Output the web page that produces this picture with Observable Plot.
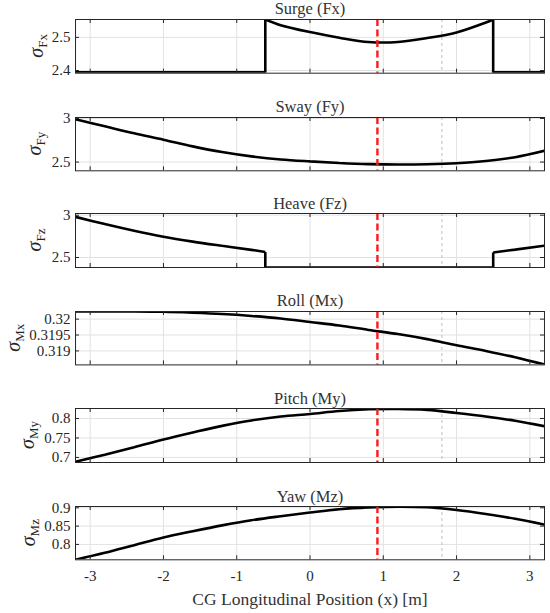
<!DOCTYPE html>
<html>
<head>
<meta charset="utf-8">
<script src="https://cdn.jsdelivr.net/npm/d3@7"></script>
<script src="https://cdn.jsdelivr.net/npm/@observablehq/plot@0.6"></script>
<style>
  html, body { margin: 0; padding: 0; background: white; }
  #chart { position: relative; width: 550px; height: 613px; background: white; overflow: hidden; }
  #chart svg { position: absolute; left: 0; font-family: "Liberation Serif", "DejaVu Serif", "Times New Roman", serif; }
  #chart svg text { font-family: "Liberation Serif", "DejaVu Serif", "Times New Roman", serif; }
</style>
</head>
<body>
<div id="chart"></div>
<script>
// ---- data ----
const xTicks = [-3, -2, -1, 0, 1, 2, 3];
const xDomain = [-3.2, 3.2];
const cgLine = 0.92;      // red dashed marker
const refLine = 1.8;      // gray dashed marker

const titles = ["Surge (Fx)", "Sway (Fy)", "Heave (Fz)", "Roll (Mx)", "Pitch (My)", "Yaw (Mz)"];
const subscripts = ["Fx", "Fy", "Fz", "Mx", "My", "Mz"];

const xs = [-3.2, -2.8, -2.4, -2.0, -1.6, -1.2, -0.8, -0.4, 0, 0.4, 0.8, 1.2, 1.6, 2.0, 2.4, 2.8, 3.2];

// Surge: flat level outside [-0.61, 2.5], curved inside
const surgeLevel = 2.395;
const surgeCurveX = [-0.61, -0.4, 0, 0.4, 0.8, 1.2, 1.6, 2.0, 2.4, 2.5];
const surgeCurveY = [2.554, 2.537, 2.516, 2.499, 2.486, 2.486, 2.498, 2.515, 2.545, 2.554];

const swayY = [2.99, 2.91, 2.83, 2.757, 2.68, 2.615, 2.565, 2.53, 2.508, 2.49, 2.477, 2.472, 2.475, 2.487, 2.513, 2.556, 2.63];

// Heave: curve on the left, floor in the middle, rise on the right
const heaveLeftX = [-3.2, -2.8, -2.4, -2.0, -1.6, -1.2, -0.8, -0.61];
const heaveLeftY = [2.98, 2.895, 2.815, 2.745, 2.688, 2.638, 2.59, 2.565];
const heaveFloor = 2.38;
const heaveRightX = [2.5, 2.8, 3.2];
const heaveRightY = [2.56, 2.593, 2.64];

const rollY = [0.32024, 0.32024, 0.32024, 0.32023, 0.32020, 0.32016, 0.32010, 0.32002, 0.31991, 0.31980, 0.31966, 0.31953, 0.31937, 0.31918, 0.31900, 0.31880, 0.31857];

const pitchY = [0.689, 0.707, 0.726, 0.746, 0.764, 0.781, 0.795, 0.805, 0.8115, 0.819, 0.8235, 0.8245, 0.822, 0.814, 0.805, 0.794, 0.780];

const yawY = [0.758, 0.777, 0.798, 0.819, 0.836, 0.852, 0.866, 0.877, 0.887, 0.896, 0.901, 0.903, 0.9015, 0.894, 0.883, 0.870, 0.854];

const yDomains = [[2.392, 2.554], [2.40, 3.011], [2.382, 3.02], [0.31856, 0.32024], [0.687, 0.8256], [0.758, 0.9035]];
const yTicks = [[2.4, 2.5], [2.5, 3], [2.5, 3], [0.319, 0.3195, 0.32], [0.7, 0.75, 0.8], [0.8, 0.85, 0.9]];

// ---- layout ----
const frameTops = [19, 116.7, 213.3, 311.3, 408.3, 506];
const frameHeights = [53.7, 53.3, 54, 53.4, 54, 53.3];
const labelX = [43, 41, 41, 20, 34, 35];

const pts = (X, Y) => X.map((x, i) => ({x, y: Y[i]}));

// each panel: list of [points, curve]
const panels = [
  [
    [[{x: xDomain[0], y: surgeLevel}, {x: surgeCurveX[0], y: surgeLevel}, {x: surgeCurveX[0], y: surgeCurveY[0]}], "linear"],
    [pts(surgeCurveX, surgeCurveY), "catmull-rom"],
    [[{x: surgeCurveX.at(-1), y: surgeCurveY.at(-1)}, {x: surgeCurveX.at(-1), y: surgeLevel}, {x: xDomain[1], y: surgeLevel}], "linear"]
  ],
  [[pts(xs, swayY), "catmull-rom"]],
  [
    [pts(heaveLeftX, heaveLeftY), "catmull-rom"],
    [[{x: heaveLeftX.at(-1), y: heaveLeftY.at(-1)}, {x: heaveLeftX.at(-1), y: heaveFloor}, {x: heaveRightX[0], y: heaveFloor}, {x: heaveRightX[0], y: heaveRightY[0]}], "linear"],
    [pts(heaveRightX, heaveRightY), "linear"]
  ],
  [[pts(xs, rollY), "catmull-rom"]],
  [[pts(xs, pitchY), "catmull-rom"]],
  [[pts(xs, yawY), "catmull-rom"]]
];

const W = 550, ML = 75, MR = 6, MT = 19;
const fw = W - ML - MR;
const axisColor = "#262626";
const gridColor = "#e2e2e2";
const font = '"Liberation Serif", "DejaVu Serif", serif';
const container = document.getElementById("chart");

panels.forEach((segs, i) => {
  const last = i === panels.length - 1;
  const fh = frameHeights[i];
  const MB = last ? 613 - (frameTops[i] + fh) : 20;
  const marks = [
    Plot.gridX(xTicks, {stroke: gridColor, strokeOpacity: 1}),
    Plot.gridY(yTicks[i], {stroke: gridColor, strokeOpacity: 1}),
    Plot.ruleX([refLine], {stroke: "#b4b4b4", strokeWidth: 0.9, strokeDasharray: "3,3"}),
    ...segs.map(([data, curve]) => Plot.line(data, {x: "x", y: "y", curve, stroke: "black", strokeWidth: 2.6, clip: true, strokeLinejoin: "miter", strokeLinecap: "butt"})),
    Plot.ruleX([cgLine], {stroke: "#ff1a1a", strokeWidth: 2.4, strokeDasharray: "7,3.5"}),
    Plot.frame({stroke: axisColor, strokeWidth: 1}),
    Plot.tickX(xTicks, {x: d => d, insetTop: fh - 4, stroke: axisColor}),
    Plot.tickX(xTicks, {x: d => d, insetBottom: fh - 4, stroke: axisColor}),
    Plot.tickY(yTicks[i], {y: d => d, insetRight: fw - 4, stroke: axisColor}),
    Plot.tickY(yTicks[i], {y: d => d, insetLeft: fw - 4, stroke: axisColor}),
    Plot.axisY(yTicks[i], {tickSize: 0, tickPadding: 5, label: null, tickFormat: d => String(d), fontSize: 15, fontFamily: font}),
    Plot.text([titles[i]], {frameAnchor: "top", dy: -5, lineAnchor: "bottom", fontSize: 16.5, fill: "#333", fontFamily: font})
  ];
  if (last) {
    marks.push(Plot.axisX(xTicks, {tickSize: 0, tickPadding: 11, label: null, tickFormat: d => String(d), fontSize: 15, fontFamily: font}));
    marks.push(Plot.text(["CG Longitudinal Position (x) [m]"], {frameAnchor: "bottom", dy: 40, lineAnchor: "middle", fontSize: 17.5, fill: "#333", fontFamily: font}));
  } else {
    marks.push(Plot.axisX({ticks: [], label: null, tickSize: 0}));
  }
  const svg = Plot.plot({
    width: W,
    height: MT + fh + MB,
    marginLeft: ML, marginRight: MR, marginTop: MT, marginBottom: MB,
    x: {domain: xDomain},
    y: {domain: yDomains[i]},
    style: {fontFamily: font, fontSize: "15px", color: axisColor, background: "transparent", overflow: "visible"},
    marks
  });
  svg.style.top = (frameTops[i] - MT) + "px";
  // y-axis label: sigma with subscript
  const yc = MT + fh / 2;
  const t = d3.select(svg).append("text")
    .attr("transform", `translate(${labelX[i]},${yc}) rotate(-90)`)
    .attr("text-anchor", "middle")
    .attr("fill", axisColor)
    .attr("font-family", font);
  t.append("tspan").attr("font-size", 20).attr("font-style", "italic").text("σ");
  t.append("tspan").attr("font-size", 13).attr("dy", 4).text(subscripts[i]);
  container.appendChild(svg);
});
</script>
</body>
</html>
